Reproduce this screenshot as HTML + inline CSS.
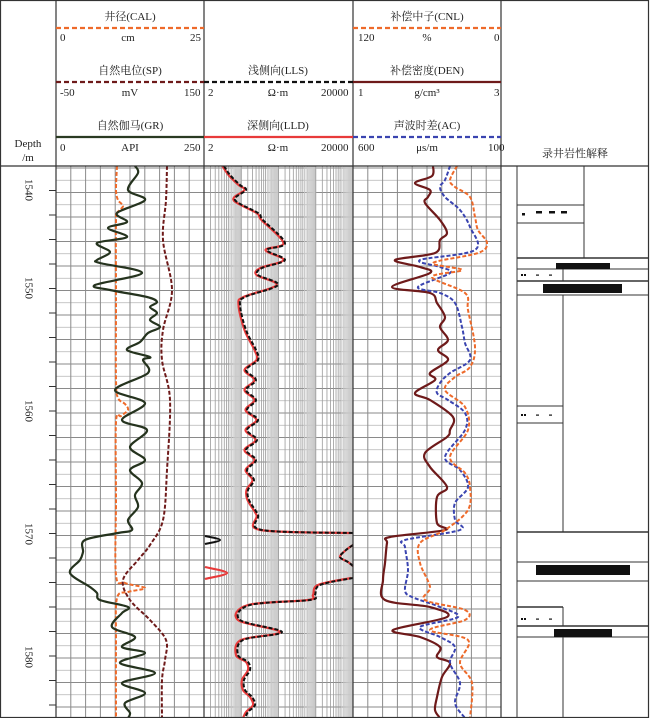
<!DOCTYPE html>
<html><head><meta charset="utf-8">
<style>
html,body{margin:0;padding:0;background:#fff;}
svg{display:block;}
text{font-family:"Liberation Serif","Noto Serif CJK SC",serif;font-size:11px;fill:#222;}
</style></head>
<body>
<svg id="s" width="650" height="718" viewBox="0 0 650 718" xmlns="http://www.w3.org/2000/svg">
<g id="grid"></g>
<g id="curves"></g>
<g id="frame" fill="none" stroke="#333">
<rect x="0.5" y="0.5" width="648" height="717" stroke-width="1.2"/>
<line x1="0" y1="166" x2="649" y2="166" stroke-width="1.2"/>
<line x1="56" y1="0" x2="56" y2="718" stroke-width="1.2"/>
<line x1="204" y1="0" x2="204" y2="718" stroke-width="1.2"/>
<line x1="353" y1="0" x2="353" y2="718" stroke-width="1.2"/>
<line x1="501" y1="0" x2="501" y2="718" stroke-width="1.2"/>
</g>
<line x1="56" y1="28" x2="204" y2="28" stroke="#ee6a2a" stroke-width="2.2" stroke-dasharray="5,3"/>
<line x1="56" y1="82" x2="204" y2="82" stroke="#6e1a1a" stroke-width="2.2" stroke-dasharray="5,3"/>
<line x1="204" y1="82" x2="353" y2="82" stroke="#111" stroke-width="2.2" stroke-dasharray="5,3"/>
<line x1="353" y1="82" x2="501" y2="82" stroke="#6e1a1a" stroke-width="2.2"/>
<line x1="56" y1="137" x2="204" y2="137" stroke="#2a3a22" stroke-width="2.2"/>
<line x1="204" y1="137" x2="353" y2="137" stroke="#e83a3a" stroke-width="2.2"/>
<line x1="353" y1="137" x2="501" y2="137" stroke="#3a44b0" stroke-width="2.2" stroke-dasharray="5,3"/>
<line x1="353" y1="28" x2="501" y2="28" stroke="#ee6a2a" stroke-width="2.2" stroke-dasharray="5,3"/>
<g text-anchor="middle">
<text x="130" y="20">井径(CAL)</text>
<text x="130" y="74">自然电位(SP)</text>
<text x="130" y="129">自然伽马(GR)</text>
<text x="278" y="74">浅侧向(LLS)</text>
<text x="278" y="129">深侧向(LLD)</text>
<text x="427" y="20">补偿中子(CNL)</text>
<text x="427" y="74">补偿密度(DEN)</text>
<text x="427" y="129">声波时差(AC)</text>
<text x="128" y="41">cm</text>
<text x="130" y="96">mV</text>
<text x="130" y="151">API</text>
<text x="278" y="96">Ω·m</text>
<text x="278" y="151">Ω·m</text>
<text x="427" y="41">%</text>
<text x="427" y="96">g/cm³</text>
<text x="427" y="151">μs/m</text>
<text x="575" y="157">录井岩性解释</text>
<text x="28" y="147">Depth</text>
<text x="28" y="161">/m</text>
</g>
<text x="60" y="41">0</text><text x="190" y="41">25</text>
<text x="60" y="96">-50</text><text x="184" y="96">150</text>
<text x="60" y="151">0</text><text x="184" y="151">250</text>
<text x="208" y="96">2</text><text x="321" y="96">20000</text>
<text x="208" y="151">2</text><text x="321" y="151">20000</text>
<text x="358" y="41">120</text><text x="494" y="41">0</text>
<text x="358" y="96">1</text><text x="494" y="96">3</text>
<text x="358" y="151">600</text><text x="488" y="151">100</text>
<g id="depth"></g>
<g id="lith" fill="none" stroke="#333" stroke-width="1"></g>
</svg>
<script>
const NS="http://www.w3.org/2000/svg";
function el(p,t,a){const e=document.createElementNS(NS,t);for(const k in a)e.setAttribute(k,a[k]);document.getElementById(p).appendChild(e);return e;}
for(let y=166;y<718;y+=12.25){
 const dark=Math.round((y-166)/12.25)%2===0;
 el('grid','line',{x1:56,x2:501,y1:y+2,y2:y+2,stroke:dark?'#8a8a8a':'#b5b5b5','stroke-width':dark?1:0.8});
}
for(let i=1;i<10;i++){[56,353].forEach(x0=>{const x=x0+i*14.8;el('grid','line',{x1:x,x2:x,y1:166,y2:718,stroke:'#8a8a8a','stroke-width':1});});}
const dw=149/4;
for(let d=0;d<4;d++){
 for(let m=2;m<=20;m++){ const x=204+dw*(d+Math.log10(m/2)); if(x>353)continue;
  const dense=(m>=10);
  el('grid','line',{x1:x,x2:x,y1:166,y2:718,stroke:dense?'#c4c4c4':'#9a9a9a','stroke-width':dense?0.9:0.8});
  if(m>=12&&m<20){const x2=204+dw*(d+Math.log10((m+1)/2));el('grid','rect',{x:x,y:166,width:Math.max(0,Math.min(x2,353)-x),height:552,fill:'#ddd',opacity:0.3});}
 }
}
for(let y=166+24.5;y<718;y+=24.5){el('depth','line',{x1:49,x2:56,y1:y,y2:y,stroke:'#333'});}
[[1540,190],[1550,288],[1560,411],[1570,534],[1580,657]].forEach(([d,y])=>{const t=el('depth','text',{x:28,y:y,'text-anchor':'middle',transform:`rotate(90 28 ${y})`,'dominant-baseline':'middle'});t.textContent=d;});
function path(pts){let s=`M${pts[0][0]},${pts[0][1]}`;for(let i=0;i<pts.length-1;i++){const p0=pts[i-1]||pts[i],p1=pts[i],p2=pts[i+1],p3=pts[i+2]||p2;
 s+=` C${p1[0]+(p2[0]-p0[0])/6},${p1[1]+(p2[1]-p0[1])/6} ${p2[0]-(p3[0]-p1[0])/6},${p2[1]-(p3[1]-p1[1])/6} ${p2[0]},${p2[1]}`;}return s;}
function curve(pts,col,w,dash){const p=pts.map(a=>[a[1],a[0]]);el('curves','path',{d:path(p),fill:'none',stroke:col,'stroke-width':w,'stroke-dasharray':dash||'none','stroke-linejoin':'round'});}
curve([[166,117],[190,116],[200,118],[206,123],[212,118],[220,116],[300,116],[380,116],[398,118],[404,125],[410,128],[416,121],[422,116],[500,116],[575,116],[583,125],[588,145],[592,128],[598,117],[640,116],[718,116]],'#ee6a2a',2,'4,2');
curve([[166,167],[200,166],[240,163],[290,172],[330,163],[360,162],[400,170],[470,167],[520,163],[545,150],[560,138],[580,123],[600,130],[620,150],[640,166],[660,165],[680,162],[718,162]],'#6e1a1a',2,'4,2');
curve([[166,135],[173,138],[190,128],[200,145],[213,117],[222,127],[228,108],[237,127],[243,97],[252,110],[260,97],[263,100],[273,142],[285,95],[290,110],[297,147],[302,157],[307,150],[313,157],[320,150],[327,160],[333,148],[342,140],[350,127],[357,150],[360,143],[373,148],[390,115],[403,145],[420,122],[430,147],[447,130],[460,145],[470,130],[483,142],[495,135],[507,138],[520,128],[530,132],[533,118],[540,85],[552,83],[560,80],[573,70],[587,90],[593,97],[600,100],[607,128],[613,122],[627,112],[637,135],[647,122],[653,145],[663,120],[673,155],[683,122],[693,145],[703,125],[713,130],[718,128]],'#25331e',2.2);
const lat=[[166,224],[175,230],[185,240],[190,246],[200,235],[213,258],[220,263],[243,285],[250,267],[260,285],[268,262],[275,258],[285,278],[297,245],[305,240],[330,246],[350,256],[360,258],[370,246],[380,256],[390,246],[400,256],[410,247],[420,258],[430,247],[440,257],[450,246],[460,256],[470,247],[480,254],[490,248],[500,249],[515,258],[530,262],[533,353]];
curve(lat.map(p=>[p[0],p[1]-1.5]),'#e83a3a',2.2);
curve(lat,'#111',2,'4,2');
const lat2=[[545,353],[550,346],[557,340],[562,348],[566,353]];
curve(lat2,'#e83a3a',2.2);curve(lat2,'#111',2,'4,2');
const lat3=[[578,353],[585,320],[595,315],[600,310],[605,250],[620,240],[632,282],[640,243],[655,238],[662,248],[670,250],[680,244],[690,245],[697,252],[705,255],[712,248],[718,245]];
curve(lat3.map(p=>[p[0],p[1]-2]),'#e83a3a',2.2);curve(lat3,'#111',2,'4,2');
curve([[536,205],[540,220],[544,205]],'#111',2);
curve([[567,205],[573,227],[579,205]],'#e83a3a',2.2);
curve([[166,433],[176,432],[183,415],[190,430],[197,428],[203,425],[220,440],[233,447],[240,440],[253,435],[260,395],[267,420],[273,430],[287,392],[293,430],[303,437],[317,445],[327,440],[340,448],[350,438],[360,448],[373,430],[380,435],[393,415],[400,430],[417,453],[430,450],[437,447],[453,425],[467,430],[487,447],[497,437],[523,437],[530,445],[537,390],[543,387],[563,385],[580,383],[600,385],[607,430],[617,447],[630,393],[637,420],[647,440],[657,437],[663,450],[677,442],[697,437],[710,435],[718,440]],'#6e1a1a',2.2);
curve([[166,450],[180,445],[187,440],[197,445],[210,460],[227,470],[250,475],[260,420],[267,440],[273,450],[287,418],[293,440],[303,455],[327,462],[343,465],[360,470],[373,450],[383,440],[393,437],[400,448],[413,465],[430,465],[457,445],[470,460],[487,468],[503,455],[520,455],[530,460],[540,405],[547,405],[570,408],[590,405],[597,412],[607,440],[617,458],[627,420],[637,440],[647,455],[663,450],[683,460],[703,455],[718,465]],'#3a44b0',2,'4,2');
curve([[166,457],[180,450],[187,455],[197,470],[217,475],[230,478],[243,487],[253,478],[263,433],[270,462],[277,432],[293,465],[310,468],[347,475],[367,470],[377,455],[390,445],[407,465],[430,468],[457,450],[473,465],[487,470],[510,468],[530,445],[543,420],[563,420],[587,430],[600,425],[610,465],[620,465],[630,430],[640,468],[663,460],[683,472],[718,470]],'#ee6a2a',2,'4,2');
const L='lith';
function ln(x1,y1,x2,y2,w){el(L,'line',{x1,y1,x2,y2,'stroke-width':w||1});}
function bar(x,y,w,h){el(L,'rect',{x,y,width:w,height:h,fill:'#111',stroke:'none'});}
ln(517,166,517,718);
ln(584,166,584,258);
[205,223].forEach(y=>ln(517,y,584,y));
ln(517,258,648,258,1.6);ln(517,269,648,269);ln(517,281,648,281,1.6);ln(517,295,648,295);
ln(563,269,563,281);
ln(563,295,563,532);
ln(517,406,563,406);ln(517,423,563,423);
ln(517,532,648,532,1.6);ln(517,562,648,562);ln(517,581,648,581);
ln(517,607,563,607,1.6);ln(563,607,563,626);ln(517,626,648,626,1.6);ln(517,637,648,637);
ln(563,637,563,718);
bar(556,263,54,6);bar(543,284,79,9);bar(536,565,94,10);bar(554,629,58,8);
[[522,213,3],[536,211,6],[549,211,6],[561,211,6]].forEach(a=>bar(a[0],a[1],a[2],2.5));
[[269,274],[406,414],[607,618]].forEach(([a,y])=>{bar(521,y,2,2);bar(524,y,2,2);bar(536,y+0.5,3,1.2);bar(549,y+0.5,3,1.2);});
</script>
</body></html>
